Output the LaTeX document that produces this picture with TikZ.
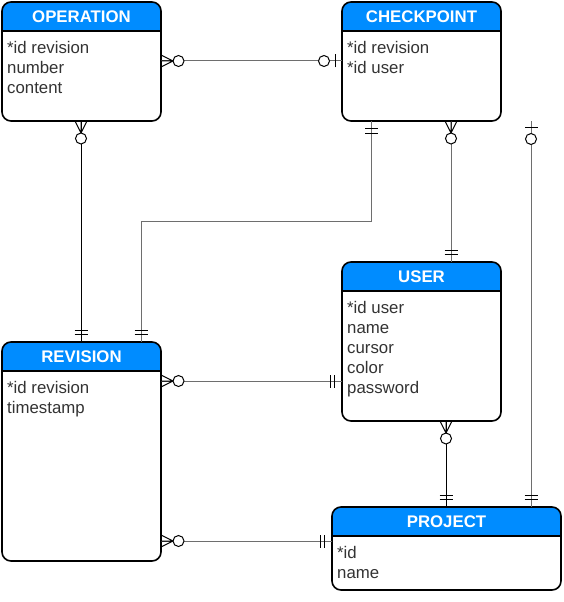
\documentclass[tikz,border=0pt]{standalone}
\usepackage{fontspec}
\setmainfont{Liberation Sans}
\usetikzlibrary{calc}
\definecolor{hdr}{RGB}{0,140,255}
\definecolor{txt}{RGB}{51,51,51}
\definecolor{lnk}{RGB}{110,110,110}
\tikzset{
  entbox/.style={rectangle, inner sep=0pt, outer sep=0pt, draw=none},
  boxline/.style={draw=black, line width=1.6pt},
  ttl/.style={text=white, font=\fontsize{16.8}{19}\selectfont\bfseries, inner sep=0pt},
  flds/.style={text=txt, font=\fontsize{16.8}{20}\selectfont, align=left, inner sep=0pt},
  lnkline/.style={draw=lnk, line width=1pt},
  lnkblack/.style={draw=black, line width=0.8pt},
  mk/.style={draw=black, line width=1pt},
  zmany/.pic={\draw[mk] (0,6)--(12,0)--(0,-6) (0,0)--(12,0); \draw[mk,fill=white] (17.5,0) circle (5.5);},
  zone/.pic={\draw[mk] (6.5,6.5)--(6.5,-6.5); \draw[mk,fill=white] (18,0) circle (5.5);},
  oone/.pic={\draw[mk] (7.5,6.5)--(7.5,-6.5) (12,6.5)--(12,-6.5);}
}
\newcommand\erentity[7]{%
  \node[entbox, minimum width=#4, minimum height=#5, anchor=north west] (#1) at (#2,#3) {};
  \begin{scope}
    \clip[rounded corners=9] (#1.north west) rectangle (#1.south east);
    \fill[hdr] (#1.north west) rectangle ($(#1.north east)+(0,-29)$);
  \end{scope}
  \draw[boxline] ($(#1.north west)+(0,-29)$) -- ($(#1.north east)+(0,-29)$);
  \draw[boxline, rounded corners=9] (#1.north west) rectangle (#1.south east);
  \node[ttl] (#1-t) at ($(#1.north)+(0,-14.5)$) {#6};
  \node[flds, anchor=north west] (#1-f) at ($(#1.north west)+(5,-39.5)$) {#7};
}
\begin{document}
\begin{tikzpicture}[x=1pt,y=1pt]
\useasboundingbox (0,0) rectangle (563,-602);
\fill[white] (0,0) rectangle (563,-602);

\erentity{op}{2}{-2}{159}{119}{OPERATION}{*id revision\\number\\content}
\erentity{ck}{342}{-2}{159}{119}{CHECKPOINT}{*id revision\\*id user}
\erentity{us}{342}{-262}{159}{159}{USER}{*id user\\name\\cursor\\color\\password}
\erentity{rv}{2}{-342}{159}{219}{REVISION}{*id revision\\timestamp}
\erentity{pj}{332}{-507}{229}{83}{PROJECT}{*id\\name}

% connectors
\draw[lnkline] ($(op.north east)+(0,-59)$) coordinate (a1) -- ($(ck.north west)+(0,-59)$) coordinate (b1);
\draw[lnkblack] ($(op.south west)+(79,0)$) coordinate (a2) -- ($(rv.north west)+(79,0)$) coordinate (b2);
\draw[lnkline] ($(ck.south west)+(29,0)$) coordinate (a3) -- ++(0,-100) -| ($(rv.north west)+(139,0)$) coordinate (b3);
\draw[lnkline] ($(ck.south west)+(109,0)$) coordinate (a4) -- ($(us.north west)+(109,0)$) coordinate (b4);
\draw[lnkline] ($(ck.south west)+(189,0)$) coordinate (a5) -- ($(pj.north west)+(199,0)$) coordinate (b5);
\draw[lnkline] ($(rv.north east)+(0,-39)$) coordinate (a6) -- ($(us.north west)+(0,-119)$) coordinate (b6);
\draw[lnkblack] ($(us.south west)+(104,0)$) coordinate (a7) -- ($(pj.north west)+(114,0)$) coordinate (b7);
\draw[lnkline] ($(rv.north east)+(0,-199)$) coordinate (a8) -- ($(pj.north west)+(0,-34)$) coordinate (b8);

% markers
\path (a1) pic{zmany} (b1) pic[rotate=180]{zone};
\path (a2) pic[rotate=-90]{zmany} (b2) pic[rotate=90]{oone};
\path (a3) pic[rotate=-90]{oone} (b3) pic[rotate=90]{oone};
\path (a4) pic[rotate=-90]{zmany} (b4) pic[rotate=90]{oone};
\path (a5) pic[rotate=-90]{zone} (b5) pic[rotate=90]{oone};
\path (a6) pic{zmany} (b6) pic[rotate=180]{oone};
\path (a7) pic[rotate=-90]{zmany} (b7) pic[rotate=90]{oone};
\path (a8) pic{zmany} (b8) pic[rotate=180]{oone};
\end{tikzpicture}
\end{document}
